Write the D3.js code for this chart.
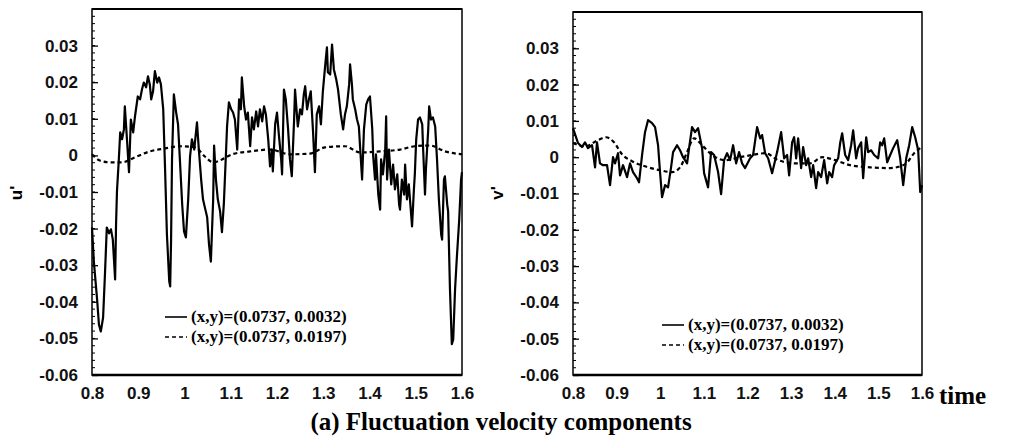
<!DOCTYPE html>
<html>
<head>
<meta charset="utf-8">
<script src="https://cdn.jsdelivr.net/npm/d3@7"></script>
<style>
  body { margin: 0; background: #fff; }
</style>
</head>
<body>
<div id="chart"></div>
<script>
// axis ticks
const timeTicks = [0.8, 0.9, 1.0, 1.1, 1.2, 1.3, 1.4, 1.5, 1.6];
const valueTicks = [-0.06, -0.05, -0.04, -0.03, -0.02, -0.01, 0, 0.01, 0.02, 0.03];
const legendLabels = ["(x,y)=(0.0737, 0.0032)", "(x,y)=(0.0737, 0.0197)"];
const titleText = "(a) Fluctuation velocity components";

// u' at (x,y)=(0.0737, 0.0032)  [time, value]
const uNear = [[0.800,-0.0197],[0.804,-0.029],[0.811,-0.0393],[0.815,-0.0462],[0.819,-0.0481],[0.824,-0.0443],[0.828,-0.0325],[0.832,-0.0197],[0.837,-0.0213],[0.841,-0.0202],[0.845,-0.0230],[0.850,-0.0339],[0.852,-0.0189],[0.854,-0.0098],[0.858,-0.0011],[0.861,0.0063],[0.865,0.0044],[0.869,0.0071],[0.871,0.0134],[0.876,0.0036],[0.880,-0.0046],[0.884,0.0098],[0.889,0.0063],[0.893,0.0107],[0.899,0.0161],[0.904,0.0153],[0.908,0.0180],[0.912,0.0199],[0.917,0.0186],[0.921,0.0216],[0.925,0.0194],[0.928,0.0153],[0.932,0.0175],[0.936,0.0230],[0.941,0.0199],[0.945,0.0213],[0.949,0.0194],[0.954,0.0126],[0.958,-0.0038],[0.962,-0.0216],[0.967,-0.0344],[0.969,-0.0358],[0.971,-0.0230],[0.973,-0.0011],[0.977,0.0167],[0.982,0.0117],[0.986,0.0085],[0.990,-0.0011],[0.995,-0.0134],[0.999,-0.0208],[1.003,-0.0224],[1.008,-0.0120],[1.012,-0.0003],[1.016,0.0044],[1.021,0.0016],[1.027,0.0090],[1.031,0.0016],[1.036,-0.0066],[1.040,-0.0120],[1.044,-0.0142],[1.049,-0.0169],[1.053,-0.0243],[1.057,-0.0290],[1.062,-0.0120],[1.064,0.0027],[1.068,-0.0066],[1.072,-0.0120],[1.077,-0.0153],[1.081,-0.0210],[1.085,-0.0134],[1.090,0.0016],[1.092,0.0079],[1.096,0.0145],[1.101,0.0126],[1.105,0.0117],[1.109,0.0098],[1.114,0.0016],[1.118,0.0153],[1.122,0.0126],[1.124,0.0213],[1.129,0.0134],[1.133,0.0098],[1.137,0.0117],[1.142,0.0025],[1.146,0.0104],[1.150,0.0071],[1.155,0.0120],[1.159,0.0079],[1.163,0.0126],[1.168,0.0093],[1.172,0.0134],[1.176,0.0112],[1.181,0.0044],[1.185,-0.0030],[1.189,0.0016],[1.191,-0.0044],[1.196,0.0085],[1.200,0.0117],[1.204,0.0057],[1.209,-0.0011],[1.211,-0.0052],[1.215,0.0180],[1.219,0.0153],[1.224,0.0071],[1.228,-0.0011],[1.232,-0.0057],[1.237,0.0098],[1.239,0.0180],[1.243,0.0112],[1.245,0.0079],[1.250,0.0126],[1.254,0.0112],[1.258,0.0167],[1.261,0.0189],[1.265,0.0126],[1.269,0.0153],[1.273,0.0175],[1.278,0.0063],[1.282,-0.0046],[1.286,0.0112],[1.291,0.0134],[1.295,0.0085],[1.299,0.0172],[1.304,0.0243],[1.308,0.0295],[1.310,0.0227],[1.315,0.0221],[1.319,0.0303],[1.323,0.0235],[1.328,0.0208],[1.332,0.0180],[1.338,0.0112],[1.343,0.0071],[1.347,0.0112],[1.351,0.0134],[1.356,0.0194],[1.358,0.0249],[1.362,0.0194],[1.364,0.0153],[1.369,0.0126],[1.373,0.0098],[1.377,0.0079],[1.380,0.0016],[1.384,-0.0066],[1.388,0.0071],[1.393,0.0139],[1.397,0.0153],[1.401,0.0161],[1.406,0.0071],[1.408,-0.0003],[1.412,-0.0066],[1.414,0.0003],[1.419,-0.0107],[1.423,-0.0148],[1.425,-0.0011],[1.429,-0.0052],[1.434,0.0016],[1.436,0.0107],[1.438,-0.0066],[1.442,0.0016],[1.447,-0.0079],[1.451,-0.0025],[1.455,-0.0093],[1.460,-0.0052],[1.464,-0.0134],[1.466,-0.0148],[1.470,-0.0066],[1.475,-0.0107],[1.477,-0.0025],[1.481,-0.0120],[1.485,-0.0079],[1.490,-0.0161],[1.492,-0.0194],[1.496,-0.0093],[1.498,-0.0052],[1.501,0.0044],[1.505,0.0098],[1.509,0.0104],[1.514,0.0085],[1.516,0.0016],[1.520,-0.0107],[1.522,-0.0038],[1.527,0.0071],[1.529,0.0134],[1.533,0.0098],[1.537,0.0104],[1.542,0.0079],[1.546,-0.0011],[1.550,-0.0120],[1.555,-0.0216],[1.557,-0.0230],[1.561,-0.0066],[1.563,-0.0057],[1.568,-0.0134],[1.570,-0.0153],[1.574,-0.0366],[1.578,-0.0516],[1.581,-0.0503],[1.585,-0.0366],[1.589,-0.0276],[1.594,-0.0175],[1.598,-0.0066],[1.600,-0.0046]];

// u' at (x,y)=(0.0737, 0.0197)
const uFar = [[0.800,0.0003],[0.817,-0.0014],[0.839,-0.0019],[0.865,-0.0019],[0.893,-0.0005],[0.925,0.0011],[0.958,0.0019],[0.990,0.0025],[1.023,0.0022],[1.044,-0.0003],[1.062,-0.0019],[1.081,-0.0011],[1.103,0.0003],[1.142,0.0011],[1.185,0.0016],[1.228,0.0003],[1.271,0.0005],[1.304,0.0022],[1.347,0.0025],[1.380,0.0008],[1.423,0.0011],[1.466,0.0016],[1.498,0.0025],[1.531,0.0027],[1.563,0.0011],[1.600,0.0003]];

// v' at (x,y)=(0.0737, 0.0032)
const vNear = [[0.800,0.0080],[0.8115,0.0039],[0.8206,0.0028],[0.8275,0.0041],[0.8344,0.0025],[0.8436,0.0033],[0.8505,-0.0028],[0.8550,0.0041],[0.8619,-0.0017],[0.8688,-0.0022],[0.8780,-0.0022],[0.8849,-0.0077],[0.8917,0.0],[0.8963,-0.0017],[0.9032,0.0011],[0.9078,-0.0050],[0.9147,-0.0022],[0.9239,-0.0055],[0.9307,-0.0017],[0.9376,-0.0041],[0.9468,-0.0058],[0.9514,-0.0069],[0.9583,0.0006],[0.9651,0.0069],[0.9720,0.0102],[0.9812,0.0094],[0.9881,0.0083],[0.9950,0.0033],[0.9995,-0.0041],[1.0041,-0.0110],[1.0110,-0.0077],[1.0179,-0.0083],[1.0248,-0.0028],[1.0294,0.0014],[1.0385,0.0033],[1.0454,0.0019],[1.0523,0.0],[1.0615,-0.0017],[1.0661,0.0025],[1.0729,0.0083],[1.0798,0.0069],[1.0867,0.0080],[1.0959,0.0025],[1.1005,-0.0044],[1.1096,-0.0083],[1.1165,0.0014],[1.1234,0.0006],[1.1326,-0.0041],[1.1395,-0.0102],[1.1463,-0.0008],[1.1532,0.0011],[1.1601,-0.0008],[1.1670,0.0033],[1.1739,-0.0017],[1.1807,0.0014],[1.1876,-0.0017],[1.1945,-0.0030],[1.2060,-0.0003],[1.2128,0.0006],[1.2220,0.0083],[1.2289,0.0052],[1.2335,0.0061],[1.2404,0.0011],[1.2473,-0.0003],[1.2564,-0.0044],[1.2679,0.0014],[1.2771,0.0069],[1.2840,-0.0003],[1.2908,0.0006],[1.2954,-0.0050],[1.3023,0.0041],[1.3069,0.0055],[1.3115,-0.0003],[1.3161,0.0052],[1.3229,-0.0030],[1.3275,0.0028],[1.3344,-0.0022],[1.3390,-0.0003],[1.3459,-0.0055],[1.3505,-0.0022],[1.3573,-0.0085],[1.3619,-0.0041],[1.3688,-0.0055],[1.3757,-0.0008],[1.3826,-0.0072],[1.3872,-0.0041],[1.3940,-0.0055],[1.3986,-0.0022],[1.4078,-0.0003],[1.4124,0.0039],[1.4170,0.0066],[1.4239,0.0006],[1.4307,-0.0008],[1.4376,0.0033],[1.4422,0.0074],[1.4491,-0.0003],[1.4537,0.0025],[1.4606,0.0041],[1.4651,-0.0058],[1.4720,0.0055],[1.4766,0.0014],[1.4835,0.0019],[1.4904,0.0006],[1.4995,-0.0003],[1.5041,0.0041],[1.5087,0.0033],[1.5133,0.0052],[1.5202,-0.0014],[1.5271,0.0006],[1.5339,0.0025],[1.5431,0.0047],[1.5500,-0.0003],[1.5569,-0.0077],[1.5638,-0.0003],[1.5706,0.0033],[1.5775,0.0083],[1.5844,0.0055],[1.5913,0.0019],[1.5959,-0.0096],[1.6000,-0.0077]];

// v' at (x,y)=(0.0737, 0.0197)
const vFar = [[0.800,0.0039],[0.8275,0.0030],[0.8573,0.0047],[0.8757,0.0055],[0.894,0.0041],[0.9124,0.0008],[0.9353,-0.0011],[0.9651,-0.0025],[0.9995,-0.0036],[1.0271,-0.0041],[1.0454,-0.0028],[1.0615,0.0014],[1.0775,0.0052],[1.0959,0.0033],[1.1188,0.0006],[1.1486,-0.0008],[1.183,0.0],[1.2106,0.0006],[1.2404,0.0011],[1.2702,-0.0008],[1.3092,-0.0017],[1.3436,-0.0017],[1.3711,0.0],[1.4009,-0.0008],[1.4353,-0.0022],[1.4812,-0.0028],[1.527,-0.0030],[1.5615,-0.0019],[1.5844,0.0014],[1.600,0.0028]];

function init() {
  const width = 1032, height = 442;
  const sans = "'Liberation Sans', Arial, sans-serif";
  const serif = "'Liberation Serif', 'Times New Roman', serif";

  const svg = d3.select("#chart")
                .append("svg")
                .attr("width", width)
                .attr("height", height)
                .style("background", "#fff");

  const panels = [
    { name: "u'", near: uNear, far: uFar, left: 92, right: 462, top: 9, bottom: 375, labelX: 16, legX: 165, legY: 317 },
    { name: "v'", near: vNear, far: vFar, left: 573, right: 922, top: 12, bottom: 375, labelX: 497, legX: 662, legY: 325 }
  ];

  panels.forEach(p => {
    const x = d3.scaleLinear().domain([0.8, 1.6]).range([p.left, p.right]);
    const y = d3.scaleLinear().domain([-0.06, 0.04]).range([p.bottom, p.top]);

    // minor ticks on the left axis, pointing inside
    svg.append("g")
       .selectAll("line")
       .data(y.ticks(50))
       .enter()
       .append("line")
       .attr("x1", p.left).attr("x2", p.left + 3)
       .attr("y1", d => y(d)).attr("y2", d => y(d))
       .attr("stroke", "#000").attr("stroke-width", 1);

    // y axis
    const yAxis = svg.append("g")
      .attr("transform", `translate(${p.left},0)`)
      .call(d3.axisLeft(y)
        .tickValues(valueTicks)
        .tickSize(-6)
        .tickPadding(14)
        .tickFormat(d => d === 0 ? "0" : d.toFixed(2)));
    yAxis.select(".domain").remove();
    yAxis.selectAll("line").attr("stroke-width", 1.3);
    yAxis.selectAll("text")
         .style("font-family", sans)
         .style("font-size", "17px")
         .style("font-weight", "bold")
         .attr("fill", "#111");

    // x axis
    const xAxis = svg.append("g")
      .attr("transform", `translate(0,${p.bottom})`)
      .call(d3.axisBottom(x)
        .tickValues(timeTicks)
        .tickSize(0)
        .tickPadding(12)
        .tickFormat(d => d === 1 ? "1" : d.toFixed(1)));
    xAxis.select(".domain").remove();
    xAxis.selectAll("text")
         .style("font-family", sans)
         .style("font-size", "17px")
         .style("font-weight", "bold")
         .attr("fill", "#111");

    // frame
    svg.append("rect")
       .attr("x", p.left).attr("y", p.top)
       .attr("width", p.right - p.left).attr("height", p.bottom - p.top)
       .attr("fill", "none").attr("stroke", "#000").attr("stroke-width", 1.5);
    svg.append("line")
       .attr("x1", p.left).attr("x2", p.right)
       .attr("y1", p.bottom).attr("y2", p.bottom)
       .attr("stroke", "#000").attr("stroke-width", 2.6);
    svg.append("line")
       .attr("x1", p.left).attr("x2", p.right)
       .attr("y1", p.top).attr("y2", p.top)
       .attr("stroke", "#000").attr("stroke-width", 2);

    // series
    const solid = d3.line().x(d => x(d[0])).y(d => y(d[1]));
    const smooth = d3.line().x(d => x(d[0])).y(d => y(d[1])).curve(d3.curveMonotoneX);

    svg.append("path")
       .attr("d", smooth(p.far))
       .attr("fill", "none").attr("stroke", "#000")
       .attr("stroke-width", 2.2).attr("stroke-dasharray", "4,3");

    svg.append("path")
       .attr("d", solid(p.near))
       .attr("fill", "none").attr("stroke", "#000")
       .attr("stroke-width", 2.2).attr("stroke-linejoin", "round");

    // y label
    svg.append("text")
       .attr("transform", `translate(${p.labelX},193) rotate(-90)`)
       .attr("text-anchor", "middle")
       .attr("dy", "0.35em")
       .style("font-family", sans)
       .style("font-size", "17px")
       .style("font-weight", "bold")
       .text(p.name);

    // legend
    legendLabels.forEach((label, i) => {
      const ly = p.legY + i * 20;
      svg.append("line")
         .attr("x1", p.legX).attr("x2", p.legX + 22)
         .attr("y1", ly).attr("y2", ly)
         .attr("stroke", "#000").attr("stroke-width", 1.6)
         .attr("stroke-dasharray", i === 0 ? null : "4,3");
      svg.append("text")
         .attr("x", p.legX + 26)
         .attr("y", ly + 5)
         .style("font-family", serif)
         .style("font-weight", "bold")
         .style("font-size", "17px")
         .text(label);
    });
  });

  svg.append("text")
     .attr("x", 939).attr("y", 404)
     .style("font-family", serif)
     .style("font-weight", "bold")
     .style("font-size", "25px")
     .text("time");

  svg.append("text")
     .attr("x", 501).attr("y", 430)
     .attr("text-anchor", "middle")
     .style("font-family", serif)
     .style("font-weight", "bold")
     .style("font-size", "25px")
     .text(titleText);
}

window.onload = init;
</script>
</body>
</html>
